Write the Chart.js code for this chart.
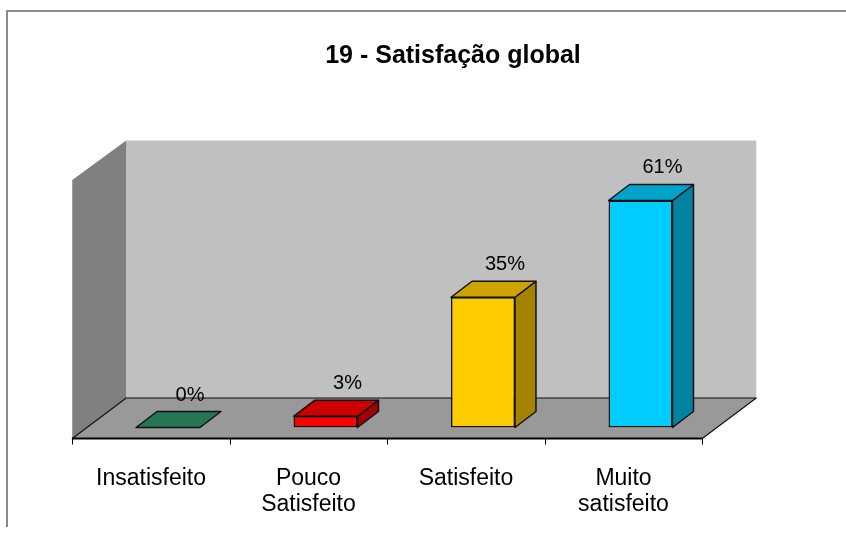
<!DOCTYPE html>
<html><head><meta charset="utf-8">
<script src="https://cdn.jsdelivr.net/npm/chart.js@4/dist/chart.umd.min.js"></script>
<style>html,body{margin:0;padding:0;background:#fff}canvas{display:block}</style>
</head><body>
<canvas id="c" width="846" height="535"></canvas>
<script>
// ---- data ----
const titleText = "19 - Satisfação global";
const categories = [["Insatisfeito"], ["Pouco", "Satisfeito"], ["Satisfeito"], ["Muito", "satisfeito"]];
const percentages = [0, 3, 35, 61];
const valueRange = [0, 70];
// ---- styles ----
const frontColors = ["#30936a", "#ff0000", "#ffcc00", "#00ccff"];
const FONT = "'Liberation Sans', Arial, sans-serif";
const D = { bx: 21, by: -16, fx: -17, fy: 11, kx: 37, ky: -29.5 };

function shade(hex, f) {
  const n = parseInt(hex.slice(1), 16);
  const r = Math.round(((n >> 16) & 255) * f), g = Math.round(((n >> 8) & 255) * f), b = Math.round((n & 255) * f);
  return `rgb(${r},${g},${b})`;
}
function poly(ctx, pts, fill, stroke, lw) {
  ctx.beginPath();
  pts.forEach((p, i) => i ? ctx.lineTo(p[0], p[1]) : ctx.moveTo(p[0], p[1]));
  ctx.closePath();
  if (fill) { ctx.fillStyle = fill; ctx.fill(); }
  if (stroke) { ctx.strokeStyle = stroke; ctx.lineWidth = lw || 1.5; ctx.lineJoin = 'round'; ctx.stroke(); }
}

const scene = {
  id: 'scene',
  beforeDraw(chart) {
    const c = chart.ctx;
    c.save();
    c.fillStyle = '#fff'; c.fillRect(0, 0, chart.width, chart.height);
    c.strokeStyle = '#8a8a8a'; c.lineWidth = 2;
    c.beginPath(); c.moveTo(7, 527); c.lineTo(7, 11); c.lineTo(chart.width, 11); c.stroke();
    c.restore();
  },
  beforeDatasetsDraw(chart) {
    const { ctx, chartArea: a, scales: { x, y } } = chart;
    const y0 = y.getPixelForValue(valueRange[0]), yT = y.getPixelForValue(valueRange[1]);
    const L = a.left, R = a.right;
    ctx.save();
    poly(ctx, [[L + D.kx, yT + D.ky + 3], [R + D.kx, yT + D.ky + 3], [R + D.kx, y0 + D.ky], [L + D.kx, y0 + D.ky]], '#c0c0c0');
    poly(ctx, [[L + D.fx, yT + D.fy + 2], [L + D.kx, yT + D.ky + 3], [L + D.kx, y0 + D.ky], [L + D.fx, y0 + D.fy]], '#808080');
    poly(ctx, [[L + D.fx, y0 + D.fy], [R + D.fx, y0 + D.fy], [R + D.kx, y0 + D.ky], [L + D.kx, y0 + D.ky]], '#999999', '#111', 1.2);
    // axis line and tick marks
    ctx.strokeStyle = '#000'; ctx.lineWidth = 2;
    ctx.beginPath(); ctx.moveTo(L + D.fx, y0 + D.fy); ctx.lineTo(R + D.fx, y0 + D.fy); ctx.stroke();
    const n = categories.length, step = (R - L) / n;
    ctx.lineWidth = 1;
    for (let i = 0; i <= n; i++) {
      const xx = Math.round(L + i * step + D.fx) + 0.5;
      ctx.beginPath(); ctx.moveTo(xx, y0 + D.fy); ctx.lineTo(xx, y0 + D.fy + 6); ctx.stroke();
    }
    ctx.restore();
  },
  afterDatasetsDraw(chart) {
    const ctx = chart.ctx;
    const meta = chart.getDatasetMeta(0);
    ctx.save();
    meta.data.forEach((bar, i) => {
      const { x, y, base, width } = bar.getProps(['x', 'y', 'base', 'width'], true);
      const l = x - width / 2, r = x + width / 2;
      const col = frontColors[i];
      if (base - y > 0.5) {
        poly(ctx, [[r, y], [r + D.bx, y + D.by], [r + D.bx, base + D.by], [r, base]], shade(col, 0.64), '#111');
      }
      poly(ctx, [[l, y], [l + D.bx, y + D.by], [r + D.bx, y + D.by], [r, y]], shade(col, 0.8), '#111');
      ctx.fillStyle = '#000';
      ctx.font = `20px ${FONT}`;
      ctx.textAlign = 'center'; ctx.textBaseline = 'alphabetic';
      ctx.fillText(percentages[i] + '%', x + 22, y - 27);
    });
    ctx.restore();
  }
};

new Chart(document.getElementById('c'), {
  type: 'bar',
  data: {
    labels: categories,
    datasets: [{
      data: percentages,
      backgroundColor: frontColors,
      borderColor: '#111',
      borderWidth: c => (c.raw === 0 ? 0 : 1.5),
      borderSkipped: false,
      categoryPercentage: 1,
      barPercentage: 0.406
    }]
  },
  options: {
    responsive: false,
    animation: false,
    layout: { padding: { left: 60, right: 0, top: 0, bottom: 0 } },
    plugins: {
      legend: { display: false },
      tooltip: { enabled: false },
      title: {
        display: true, text: titleText, color: '#000',
        font: { family: FONT, size: 25, weight: 'bold', lineHeight: 1.2 },
        padding: { top: 41, bottom: 96 }
      }
    },
    scales: {
      x: {
        grid: { display: false }, border: { display: false },
        ticks: {
          color: '#000', font: { family: FONT, size: 23, lineHeight: 1.1 },
          padding: 31, labelOffset: -17, maxRotation: 0, autoSkip: false
        },
        afterFit: s => { s.height = 107.5; }
      },
      y: {
        min: valueRange[0], max: valueRange[1],
        grid: { display: false }, border: { display: false },
        ticks: { display: false },
        afterFit: s => { s.width = 29.25; }
      },
      y2: {
        type: 'linear', position: 'right', axis: 'y',
        grid: { display: false }, border: { display: false },
        ticks: { display: false },
        afterFit: s => { s.width = 126.75; }
      }
    }
  },
  plugins: [scene]
});
</script>
</body></html>
